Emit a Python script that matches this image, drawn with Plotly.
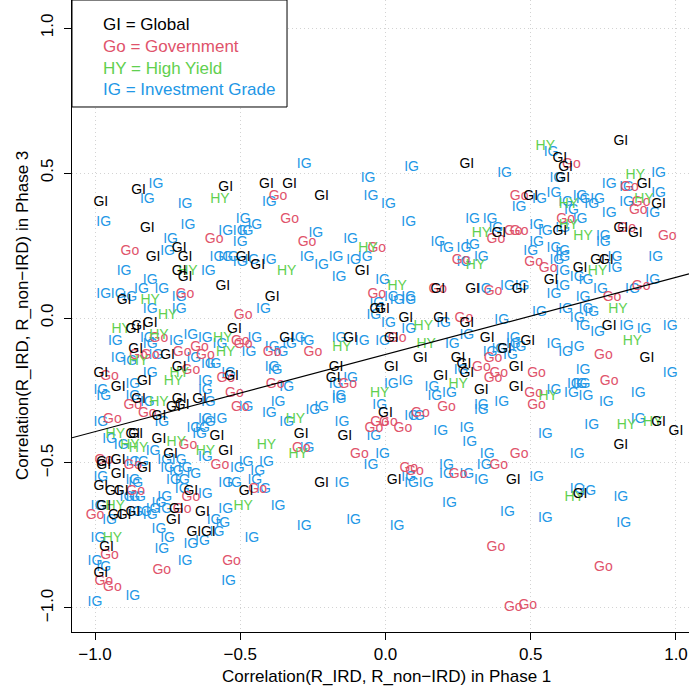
import numpy as np
import plotly.graph_objects as go

# ---------------- data ----------------
GI_x = [-0.85,-0.98,-0.55,-0.82,-0.71,-0.80,-0.69,-0.71,-0.69,-0.56,
        -0.41,-0.33,-0.22,-0.49,-0.44,-0.08,-0.39,0.28,0.50,0.39,
        0.18,0.30,0.46,0.81,0.60,0.62,0.61,0.89,0.94,0.60,
        0.81,0.86,0.73,0.76,0.67,0.57,-0.90,-0.81,-0.85,-0.87,
        -0.86,-0.75,-0.71,-0.98,-0.92,-0.83,-0.85,-0.71,-0.64,-0.73,
        -0.70,-0.78,-0.58,-0.87,-0.86,-0.78,-0.74,-0.55,-0.97,-0.92,
        -0.03,-0.52,-0.34,-0.12,-0.17,-0.18,-0.29,-0.14,-0.53,-0.01,
        0.07,0.19,0.28,0.02,0.35,0.49,0.41,0.12,0.25,0.27,
        0.28,0.45,0.02,0.19,0.33,0.45,0.00,0.77,0.90,0.94,
        1.00,0.81,-0.97,-0.83,-0.92,-0.98,-0.94,-0.91,-0.67,-0.97,
        -0.93,-0.90,-0.87,-0.72,-0.73,-0.63,-0.66,-0.61,-0.96,-0.98,
        -0.48,-0.22,0.03,0.44,0.67]
GI_y = [0.44,0.40,0.45,0.31,0.24,0.21,0.21,0.16,0.14,0.11,
        0.46,0.46,0.42,0.21,0.18,0.16,0.07,0.53,0.42,0.29,
        0.10,0.10,0.10,0.61,0.55,0.52,0.48,0.46,0.39,0.30,
        0.31,0.29,0.20,0.20,0.17,0.13,0.06,-0.02,-0.03,-0.04,
        -0.11,-0.13,-0.17,-0.19,-0.24,-0.22,-0.28,-0.28,-0.28,-0.31,
        -0.30,-0.34,-0.41,-0.40,-0.40,-0.42,-0.47,-0.46,-0.50,-0.49,
        0.03,-0.04,-0.07,-0.07,-0.17,-0.21,-0.40,-0.41,-0.20,0.03,
        0.00,0.00,-0.02,-0.07,-0.07,-0.08,-0.11,-0.14,-0.14,-0.16,
        -0.19,-0.17,-0.17,-0.20,-0.25,-0.24,-0.33,-0.03,-0.14,-0.36,
        -0.39,-0.44,-0.51,-0.52,-0.54,-0.58,-0.60,-0.60,-0.60,-0.65,
        -0.68,-0.68,-0.67,-0.66,-0.70,-0.67,-0.74,-0.74,-0.79,-0.88,
        -0.60,-0.57,-0.56,-0.56,-0.61]

GO_x = [-0.59,-0.88,-0.69,-0.37,-0.33,-0.27,-0.03,-0.03,0.46,0.44,
        0.46,0.38,0.26,0.51,0.18,0.37,0.64,0.84,0.88,0.87,
        0.62,0.83,0.97,0.56,0.88,0.78,
        -0.78,-0.85,-0.81,-0.70,-0.64,-0.62,-0.67,-0.55,-0.95,-0.87,
        -0.82,-0.94,-0.68,-0.97,-0.57,-0.49,-0.50,-0.49,-0.39,-0.25,
        -0.13,-0.38,-0.52,-0.50,-0.04,-0.02,-0.29,-0.09,0.27,0.04,
        0.33,0.39,0.37,0.21,0.12,0.01,0.06,0.46,0.39,0.08,
        0.75,0.52,0.77,0.51,0.52,-0.87,-0.86,-0.67,-1.00,-0.70,
        -0.77,-0.53,-0.95,-0.97,-0.94,-0.44,0.10,0.25,0.38,0.44,0.49,0.75,0.37]
GO_y = [0.27,0.23,0.08,0.42,0.34,0.26,0.24,0.08,0.42,0.30,
        0.30,0.27,0.20,0.19,0.10,0.09,0.53,0.45,0.40,0.37,
        0.34,0.31,0.28,0.17,0.11,0.07,
        -0.07,-0.13,-0.13,-0.12,-0.10,-0.13,-0.18,-0.21,-0.20,-0.30,
        -0.33,-0.35,-0.44,-0.49,-0.51,0.01,-0.08,-0.09,-0.12,-0.12,
        -0.23,-0.23,-0.26,-0.31,-0.38,-0.36,-0.45,-0.47,0.00,-0.07,
        -0.17,-0.19,-0.21,-0.31,-0.33,-0.36,-0.38,-0.47,-0.51,-0.52,
        -0.13,-0.19,-0.22,-0.26,-0.30,-0.51,-0.60,-0.62,-0.68,-0.66,
        -0.87,-0.84,-0.82,-0.91,-0.93,-0.59,-0.53,-0.54,-0.79,-1.00,-0.99,-0.86,-0.14]

HY_x = [-0.57,-0.68,-0.06,-0.34,0.33,0.31,0.04,0.55,0.86,0.63,
        0.89,0.63,0.68,0.73,-0.81,-0.75,-0.91,-0.78,-0.85,-0.56,
        -0.55,-0.71,-0.73,-0.78,-0.93,-0.72,-0.88,-0.85,-0.62,-0.15,
        -0.31,-0.02,-0.41,-0.30,0.13,0.14,0.25,0.80,0.85,0.56,
        0.83,0.92,-0.93,-0.94,-0.49,0.65]
HY_y = [0.41,0.16,0.24,0.16,0.29,0.18,0.11,0.59,0.49,0.39,
        0.41,0.32,0.28,0.16,0.06,0.01,-0.04,-0.06,-0.15,-0.07,
        -0.12,-0.19,-0.22,-0.29,-0.40,-0.43,-0.44,-0.45,-0.46,-0.10,
        -0.35,-0.26,-0.44,-0.47,-0.03,-0.09,-0.23,0.03,-0.08,-0.27,
        -0.37,-0.36,-0.65,-0.76,-0.65,-0.62]

IG_x = [-0.79,-0.82,-0.69,-0.97,-0.68,-0.55,-0.74,-0.75,-0.58,-0.55,-0.90,-0.61,-0.81,-0.84,-0.77,-0.97,-0.92,-0.88,
        -0.28,-0.06,-0.05,0.01,-0.40,-0.49,-0.45,-0.50,-0.48,-0.24,-0.50,-0.12,-0.53,-0.46,-0.50,-0.40,-0.27,-0.17,-0.22,-0.11,-0.07,-0.16,-0.01,
        0.09,0.41,0.46,0.08,0.30,0.36,0.38,0.18,0.21,0.27,0.30,0.33,0.50,0.27,0.34,0.42,0.47,0.02,0.08,
        0.57,0.59,0.94,0.77,0.83,0.94,0.58,0.67,0.68,0.73,0.71,0.62,0.64,0.83,0.92,0.77,0.67,0.53,0.52,0.55,
        0.61,0.75,0.75,0.52,0.58,0.61,0.61,0.93,0.79,0.59,0.61,0.79,0.66,0.69,0.61,0.74,0.85,0.92,0.58,0.68,
        -0.71,-0.81,-0.71,-0.93,-0.82,-0.81,-0.72,-0.67,-0.62,-0.92,-0.88,-0.79,-0.57,-0.66,-0.61,-0.59,-0.81,-0.54,-0.87,-0.98,-0.97,
        -0.87,-0.62,-0.62,-0.82,-0.61,-0.77,-0.98,-0.62,-0.61,-0.57,-0.66,-0.63,-0.64,-0.95,-0.91,-0.80,-0.62,-0.76,-0.71,-0.87,-0.84,
        -0.42,-0.03,-0.04,-0.45,-0.47,-0.30,-0.27,-0.33,-0.39,-0.36,-0.16,-0.08,-0.01,-0.39,-0.38,-0.12,-0.17,
        -0.34,-0.16,-0.16,-0.48,-0.37,-0.40,-0.34,-0.25,-0.22,-0.15,-0.04,-0.02,-0.27,-0.01,-0.48,-0.41,-0.05,
        0.04,0.08,0.20,0.40,0.01,0.08,0.23,0.28,0.44,0.44,0.46,0.36,0.39,0.43,0.26,0.07,
        0.02,0.16,0.17,0.22,0.33,0.33,0.40,0.11,0.09,0.19,0.28,0.29,0.35,0.34,0.21,
        0.53,0.62,0.69,0.71,0.66,0.68,0.73,0.83,0.89,0.98,0.58,0.66,0.62,0.68,
        0.98,0.65,0.67,0.68,0.64,0.69,0.58,0.87,0.76,0.71,0.55,0.87,0.66,
        -0.75,-0.72,-0.69,-0.66,-0.98,-0.87,-0.86,-0.73,-0.70,-0.89,-0.87,-0.85,-0.62,-0.76,-0.70,-0.55,-0.99,-0.95,-0.86,-0.83,
        -0.80,-0.78,-0.81,-0.76,-0.55,-0.59,-0.56,-0.58,-0.63,-0.67,-0.78,-0.75,-0.77,-0.69,-0.54,-0.99,-1.00,-0.97,-0.87,-1.00,
        -0.51,-0.44,-0.45,-0.52,-0.42,-0.15,-0.37,-0.28,-0.11,-0.46,
        0.08,0.09,0.14,0.21,0.28,0.33,0.22,0.42,0.04,0.52,
        0.66,0.70,0.81,0.55,0.82]
IG_y = [0.46,0.41,0.39,0.33,0.32,0.30,0.27,0.23,0.21,0.21,0.16,0.16,0.13,0.10,0.10,0.08,0.08,0.07,
        0.53,0.48,0.42,0.39,0.40,0.34,0.32,0.30,0.30,0.29,0.26,0.27,0.21,0.20,0.19,0.20,0.21,0.21,0.18,0.20,0.21,0.14,0.13,
        0.52,0.50,0.38,0.33,0.34,0.34,0.31,0.26,0.24,0.24,0.25,0.21,0.23,0.19,0.10,0.11,0.11,0.07,0.07,
        0.57,0.48,0.50,0.46,0.45,0.43,0.43,0.42,0.41,0.41,0.39,0.40,0.37,0.40,0.36,0.36,0.34,0.41,0.32,0.30,
        0.31,0.28,0.26,0.26,0.24,0.23,0.21,0.21,0.21,0.20,0.16,0.17,0.14,0.13,0.11,0.10,0.10,0.13,0.08,0.07,
        0.07,0.03,0.03,-0.08,-0.07,-0.09,-0.08,-0.06,-0.07,-0.14,-0.15,-0.13,-0.09,-0.14,-0.16,-0.16,-0.19,-0.19,-0.23,-0.25,-0.27,
        -0.27,-0.22,-0.25,-0.29,-0.29,-0.36,-0.36,-0.35,-0.36,-0.35,-0.38,-0.38,-0.40,-0.42,-0.44,-0.46,-0.48,-0.49,-0.49,-0.50,-0.50,
        0.03,0.05,0.01,-0.07,-0.12,-0.07,-0.08,-0.09,-0.10,-0.12,-0.07,-0.08,-0.08,-0.17,-0.18,-0.21,-0.23,
        -0.24,-0.27,-0.28,-0.31,-0.29,-0.33,-0.36,-0.32,-0.31,-0.36,-0.41,-0.30,-0.45,-0.47,-0.50,-0.50,-0.51,
        0.06,0.06,-0.02,-0.01,-0.02,-0.04,-0.09,-0.06,-0.07,-0.09,-0.10,-0.12,-0.11,-0.13,-0.18,-0.22,
        -0.23,-0.24,-0.27,-0.26,-0.30,-0.32,-0.29,-0.34,-0.34,-0.39,-0.38,-0.43,-0.47,-0.51,-0.51,
        0.02,0.03,0.03,0.02,0.00,-0.03,-0.05,-0.03,-0.04,-0.03,-0.09,-0.10,-0.12,-0.18,
        -0.19,-0.23,-0.23,-0.23,-0.26,-0.27,-0.25,-0.26,-0.29,-0.37,-0.40,-0.35,-0.47,
        -0.52,-0.53,-0.52,-0.54,-0.55,-0.56,-0.57,-0.56,-0.56,-0.62,-0.62,-0.62,-0.61,-0.62,-0.59,-0.57,-0.65,-0.70,-0.67,-0.67,
        -0.66,-0.64,-0.68,-0.66,-0.66,-0.70,-0.71,-0.74,-0.77,-0.78,-0.73,-0.76,-0.80,-0.84,-0.91,-0.76,-0.84,-0.86,-0.96,-0.98,
        -0.52,-0.53,-0.56,-0.57,-0.59,-0.57,-0.65,-0.72,-0.70,-0.76,
        -0.55,-0.57,-0.57,-0.54,-0.54,-0.56,-0.64,-0.67,-0.72,-0.55,
        -0.59,-0.60,-0.62,-0.69,-0.71]

CATEGORIES = ["GI", "Go", "HY", "IG"]
CATEGORY_NAMES = ["Global", "Government", "High Yield", "Investment Grade"]
COLORS = ["#000000", "#DF536B", "#61D04F", "#2297E6"]

FIT_INTERCEPT = -0.126
FIT_SLOPE = 0.266

TICK_VALS = [-1.0, -0.5, 0.0, 0.5, 1.0]
TICK_TEXT = ["\u22121.0", "\u22120.5", "0.0", "0.5", "1.0"]

X_TITLE = "Correlation(R_IRD, R_non\u2212IRD) in Phase 1"
Y_TITLE = "Correlation(R_IRD, R_non\u2212IRD) in Phase 3"

# ---------------- figure ----------------
X_RANGE = [-1.0792, 1.0448]
Y_RANGE = [-1.0828, 1.0966]
FONT = "Liberation Sans, Arial, Helvetica, sans-serif"
BASE_SIZE = 17
POINT_SIZE = 14

series = {
    "IG": (IG_x, IG_y),
    "Go": (GO_x, GO_y),
    "HY": (HY_x, HY_y),
    "GI": (GI_x, GI_y),
}
color_of = dict(zip(CATEGORIES, COLORS))

fig = go.Figure()
for cat in ["IG", "Go", "HY", "GI"]:
    xs, ys = series[cat]
    n = min(len(xs), len(ys))
    fig.add_trace(go.Scatter(
        x=xs[:n], y=ys[:n], mode="text", text=[cat] * n,
        textposition="middle center",
        textfont=dict(family=FONT, size=POINT_SIZE, color=color_of[cat]),
        hoverinfo="skip", showlegend=False))

lx = np.array(X_RANGE)
fig.add_trace(go.Scatter(x=lx, y=FIT_INTERCEPT + FIT_SLOPE * lx, mode="lines",
                         line=dict(color="black", width=1.2),
                         hoverinfo="skip", showlegend=False))

axis_common = dict(
    tickvals=TICK_VALS, ticktext=TICK_TEXT, ticks="outside", ticklen=7,
    tickcolor="black", tickwidth=1, showline=True, linecolor="black",
    linewidth=1, showgrid=True, gridcolor="#D3D3D3", griddash="1px,3px",
    gridwidth=1, zeroline=False,
    tickfont=dict(family=FONT, size=BASE_SIZE, color="black"),
    mirror=False,
)
fig.update_xaxes(range=X_RANGE, **axis_common)
fig.update_yaxes(range=Y_RANGE, tickangle=-90, ticklabelstandoff=4, **axis_common)

# legend box
fig.add_shape(type="rect", xref="paper", yref="paper",
              x0=0, x1=0.3485, y0=0.8307, y1=1.0,
              line=dict(color="black", width=1), fillcolor="white", layer="above")
leg_y = [0.962, 0.927, 0.892, 0.859]
annotations = []
for cat, name, col, yy in zip(CATEGORIES, CATEGORY_NAMES, COLORS, leg_y):
    annotations.append(dict(xref="paper", yref="paper", x=0.047, y=yy,
                            xanchor="left", yanchor="middle", showarrow=False,
                            text=f"{cat} = {name}",
                            font=dict(family=FONT, size=BASE_SIZE, color=col)))
annotations.append(dict(xref="paper", yref="paper", x=(386 - 72) / 617, y=-0.0712,
                        xanchor="center", yanchor="middle", showarrow=False,
                        text=X_TITLE, font=dict(family=FONT, size=BASE_SIZE, color="black")))
annotations.append(dict(xref="paper", yref="paper", x=-0.081, y=0.5,
                        xanchor="center", yanchor="middle", showarrow=False,
                        textangle=-90, text=Y_TITLE,
                        font=dict(family=FONT, size=BASE_SIZE, color="black")))

fig.update_layout(
    width=689, height=691,
    margin=dict(l=72, r=0, t=0, b=59, pad=0),
    plot_bgcolor="white", paper_bgcolor="white",
    annotations=annotations,
    hovermode=False,
)

fig.write_html("out.html", config={"displayModeBar": False},
               post_script="document.body.style.margin='0px';document.body.style.padding='0px';")
